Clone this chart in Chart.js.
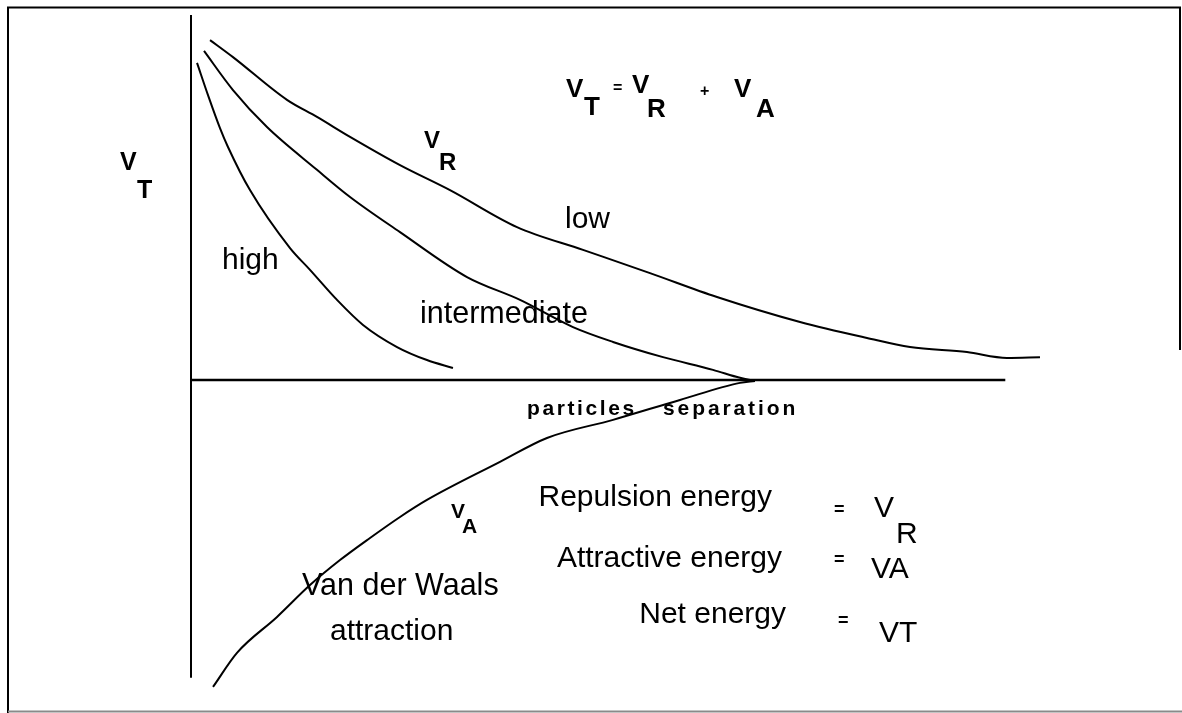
<!DOCTYPE html>
<html>
<head>
<meta charset="utf-8">
<script src="https://cdn.jsdelivr.net/npm/chart.js@4/dist/chart.umd.min.js"></script>
<style>
  html, body { margin: 0; padding: 0; background: #fff; }
  #c { display: block; }
</style>
</head>
<body>
<canvas id="c" width="1182" height="713"></canvas>
<script>
/* DLVO sketch: net interaction energy vs particle separation.
   x = separation, y = energy (arbitrary units). */
const highX = [0.071, 0.2, 0.341, 0.435, 0.694, 1.165, 1.4, 1.718, 2.024, 2.424, 2.776, 3.082];
const highY = [8.75, 7.86, 6.95, 6.43, 5.24, 3.64, 3.04, 2.21, 1.52, 0.91, 0.55, 0.33];

const midX = [0.153, 0.494, 0.894, 1.482, 1.871, 2.459, 3.247, 3.871, 4.494, 4.965, 5.553, 6.141, 6.459, 6.635];
const midY = [9.08, 8.0, 6.98, 5.8, 5.05, 4.08, 2.84, 2.21, 1.46, 1.05, 0.63, 0.28, 0.06, -0.03];

const lowX = [0.224, 0.494, 1.129, 1.482, 1.871, 2.459, 3.047, 3.835, 4.612, 5.4, 6.188, 7.165, 7.953, 8.459, 9.129, 9.6, 9.988];
const lowY = [9.38, 8.91, 7.73, 7.26, 6.71, 5.93, 5.24, 4.22, 3.59, 2.95, 2.29, 1.6, 1.16, 0.91, 0.77, 0.61, 0.63];

const attrX = [0.259, 0.541, 1.012, 1.4, 1.753, 2.106, 2.459, 2.776, 3.635, 4.188, 4.965, 5.753, 6.459, 6.635];
const attrY = [-8.47, -7.53, -6.54, -5.66, -4.97, -4.36, -3.78, -3.31, -2.26, -1.6, -1.1, -0.55, -0.08, -0.03];

// axis lines of the sketch (drawn as data so they sit on the scales)
const axisVX = [0, 0], axisVY = [10.07, -8.22];
const axisHX = [0, 9.58], axisHY = [0, 0];

const pts = (xs, ys) => xs.map((x, i) => ({ x, y: ys[i] }));
const curve = (label, xs, ys, w) => ({
  label, data: pts(xs, ys), showLine: true, borderColor: "#000", backgroundColor: "#000",
  borderWidth: w, pointRadius: 0, cubicInterpolationMode: "monotone", clip: false,
});

const SANS = '"Liberation Sans", Arial, sans-serif';

// frame + annotations, all text kept as real canvas text
const sketchText = {
  id: "sketchText",
  afterDraw(chart) {
    const ctx = chart.ctx;
    ctx.save();
    // outer frame of the scanned figure
    ctx.strokeStyle = "#000"; ctx.lineWidth = 2;
    ctx.beginPath();
    ctx.moveTo(8, 713); ctx.lineTo(8, 7.5); ctx.lineTo(1180, 7.5); ctx.lineTo(1180, 350);
    ctx.stroke();
    ctx.strokeStyle = "#8a8a8a";
    ctx.beginPath(); ctx.moveTo(8, 711.5); ctx.lineTo(1182, 711.5); ctx.stroke();

    ctx.fillStyle = "#000";
    ctx.textBaseline = "alphabetic";
    ctx.textAlign = "left";
    const t = (s, x, y, font, spacing) => {
      ctx.font = font;
      if ("letterSpacing" in ctx) ctx.letterSpacing = spacing || "0px";
      ctx.fillText(s, x, y);
    };
    const B = sz => `bold ${sz}px ${SANS}`;
    const R = sz => `${sz}px ${SANS}`;

    // V_T on the left
    t("V", 120, 170, B(25)); t("T", 137, 198, B(25));
    // V_T = V_R + V_A
    t("V", 566, 97, B(26)); t("T", 584, 115, B(26));
    t("=", 613, 93, B(16));
    t("V", 632, 93, B(26)); t("R", 647, 117, B(26));
    t("+", 700, 96, B(16));
    t("V", 734, 97, B(26)); t("A", 756, 117, B(26));
    // V_R label by the curve
    t("V", 424, 148, B(24)); t("R", 439, 170, B(24));
    // V_A label
    t("V", 451, 518, B(21)); t("A", 462, 533, B(21));

    t("high", 222, 269, R(30));
    t("low", 565, 228, R(30));
    t("intermediate", 420, 323, R(30.5));
    t("particles", 527, 415, B(21), "2.6px");
    t("separation", 663, 415, B(21), "2.9px");

    ctx.textAlign = "right";
    t("Repulsion energy", 772, 506, R(30));
    t("Attractive energy", 782, 567, R(30));
    t("Net energy", 786, 623, R(30));
    ctx.textAlign = "left";
    t("Van der Waals", 302, 595, R(30.5));
    t("attraction", 330, 640, R(30));

    t("=", 834, 515, B(18)); t("V", 874, 517, R(30)); t("R", 896, 543, R(30));
    t("=", 834, 565, B(18)); t("VA", 871, 578, R(30));
    t("=", 838, 626, B(18)); t("VT", 879, 642, R(30));
    ctx.restore();
  },
};

new Chart(document.getElementById("c"), {
  type: "scatter",
  data: {
    datasets: [
      curve("axis y", axisVX, axisVY, 2),
      curve("axis x", axisHX, axisHY, 2.5),
      curve("high", highX, highY, 2),
      curve("intermediate", midX, midY, 2),
      curve("low", lowX, lowY, 2),
      curve("Van der Waals", attrX, attrY, 2),
    ],
  },
  options: {
    responsive: false, animation: false, devicePixelRatio: 1,
    layout: { padding: { left: 191, right: 141, top: 14, bottom: 25 } },
    plugins: { legend: { display: false }, tooltip: { enabled: false } },
    scales: {
      x: { type: "linear", min: 0, max: 10, display: false },
      y: { type: "linear", min: -8.5, max: 10.1, display: false },
    },
  },
  plugins: [sketchText],
});
</script>
</body>
</html>
